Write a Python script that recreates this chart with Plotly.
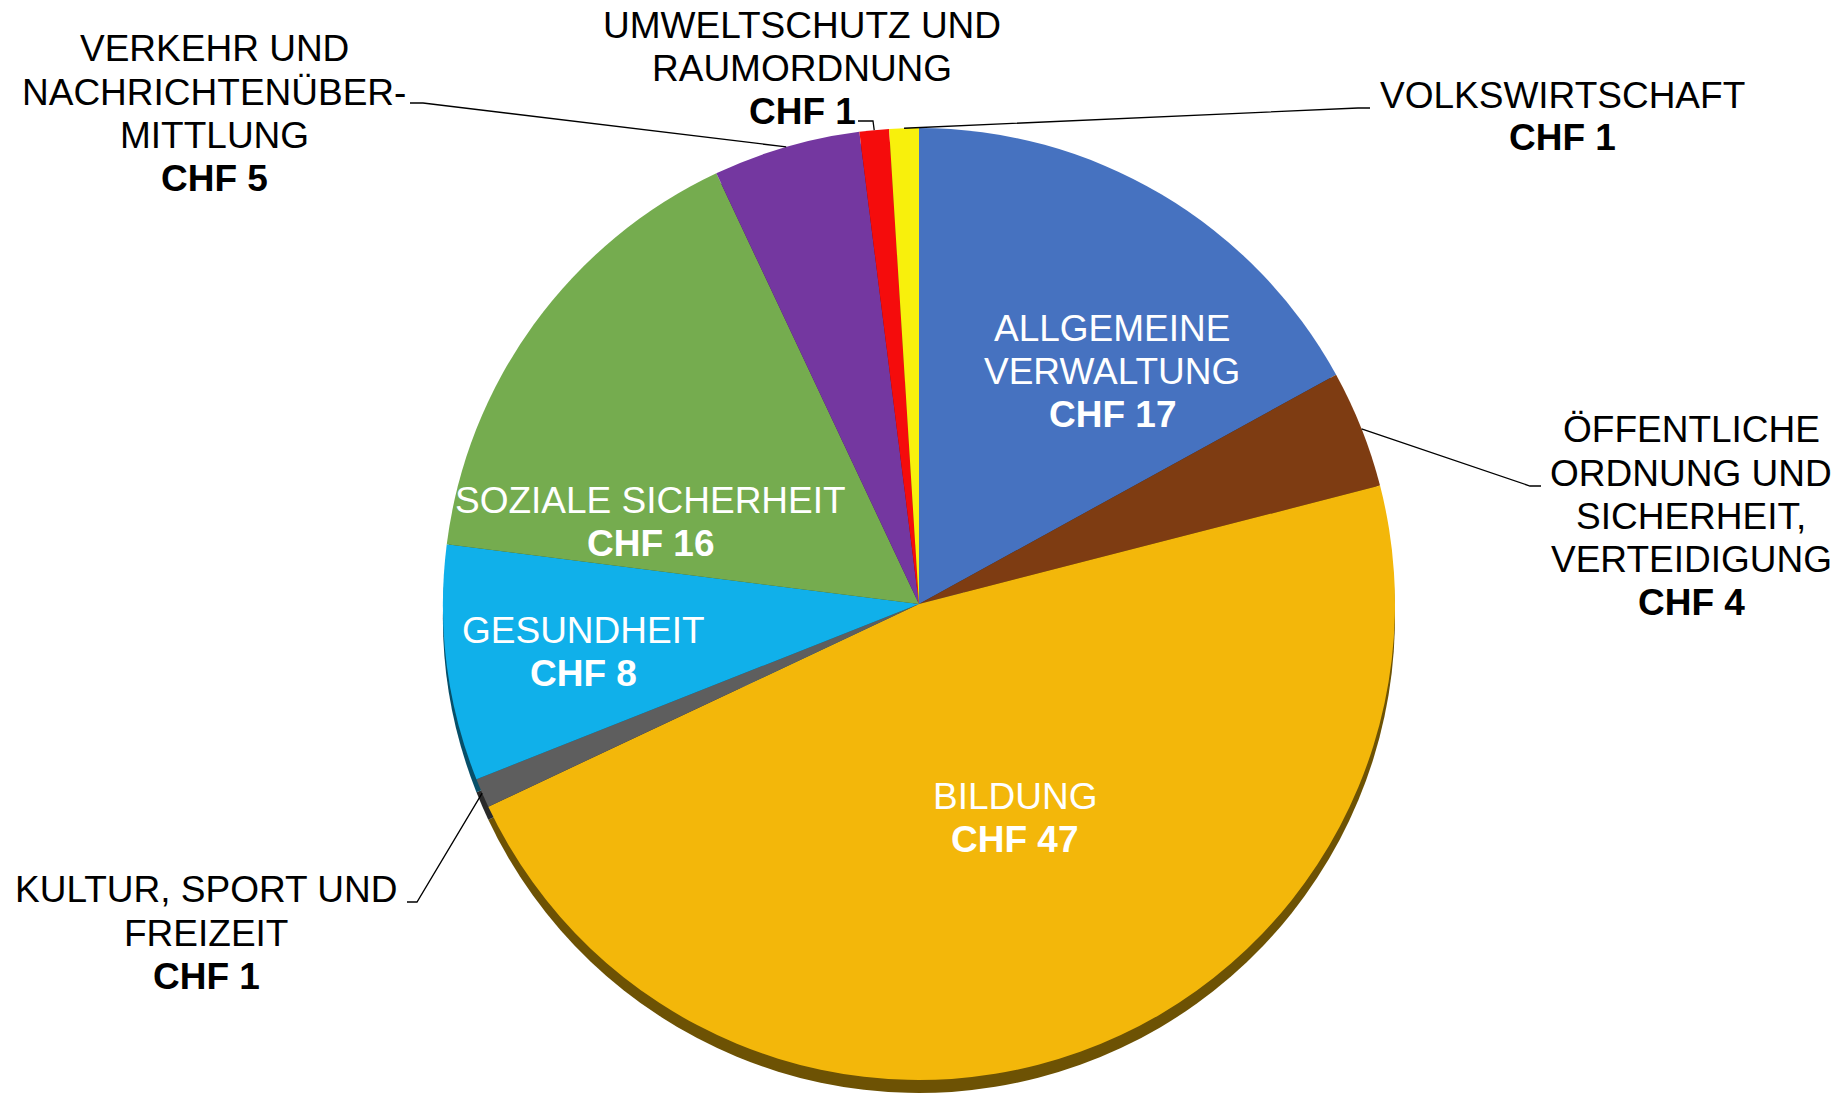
import numpy as np
import plotly.graph_objects as go

# ---- data ----
categories = [
    "ALLGEMEINE VERWALTUNG",
    "ÖFFENTLICHE ORDNUNG UND SICHERHEIT, VERTEIDIGUNG",
    "BILDUNG",
    "KULTUR, SPORT UND FREIZEIT",
    "GESUNDHEIT",
    "SOZIALE SICHERHEIT",
    "VERKEHR UND NACHRICHTENÜBERMITTLUNG",
    "UMWELTSCHUTZ UND RAUMORDNUNG",
    "VOLKSWIRTSCHAFT",
]
values = [17, 4, 47, 1, 8, 16, 5, 1, 1]
colors = ["#4672C0", "#7E3C12", "#F3B70A", "#5E5E5E", "#10B0EA",
          "#75AC4F", "#7437A0", "#F50C0C", "#F8F00C"]

# label text lines (a bold value line is appended)
label_lines = [
    ["ALLGEMEINE", "VERWALTUNG"],
    ["ÖFFENTLICHE", "ORDNUNG UND", "SICHERHEIT,", "VERTEIDIGUNG"],
    ["BILDUNG"],
    ["KULTUR, SPORT UND", "FREIZEIT"],
    ["GESUNDHEIT"],
    ["SOZIALE SICHERHEIT"],
    ["VERKEHR UND", "NACHRICHTENÜBER-", "MITTLUNG"],
    ["UMWELTSCHUTZ UND", "RAUMORDNUNG"],
    ["VOLKSWIRTSCHAFT"],
]

# ---- layout / style (screen px) ----
W, H = 1844, 1100
OFF = 8                          # page body margin
CX, CY, R = 919, 604, 476        # pie centre / radius
SHADOW = 13                      # depth of the 3D edge
LINE_H = 43
FONT = "Liberation Sans, Arial, sans-serif"
FSIZE = 37

# label placement: (centre x, first line centre y, inside?, leader elbow points)
label_pos = [
    (1112, 328, True, None),
    (1691, 430, False, [(1530, 486), (1541, 486)]),
    (1015, 796, True, None),
    (206, 890, False, [(417, 902), (407, 902)]),
    (583, 630, True, None),
    (650, 500, True, None),
    (214, 49, False, [(423, 103), (410, 103)]),
    (802, 26, False, [(873, 121), (858, 121)]),
    (1562, 95, False, [(1358, 108), (1370, 108)]),
]


def darken(hexc, f=0.45):
    h = hexc.lstrip("#")
    r, g, b = (int(h[i:i + 2], 16) for i in (0, 2, 4))
    return "#%02X%02X%02X" % (int(r * f), int(g * f), int(b * f))


def px(x, y):
    return (x - OFF) / W, 1 - (y - OFF) / H


x0, y_top = px(CX - R, CY - R)
x1, y_bot = px(CX + R, CY + R)
dom_x = [x0, x1]
dom_y = [y_bot, y_top]
sh = SHADOW / H
dom_y_sh = [y_bot - sh, y_top - sh]

fig = go.Figure()
fig.add_trace(go.Pie(
    labels=categories, values=values, sort=False, direction="clockwise",
    rotation=0, marker=dict(colors=[darken(c) for c in colors], line=dict(width=0)),
    textinfo="none", hoverinfo="skip", showlegend=False,
    domain=dict(x=dom_x, y=dom_y_sh),
))
fig.add_trace(go.Pie(
    labels=categories, values=values, sort=False, direction="clockwise",
    rotation=0, marker=dict(colors=colors, line=dict(width=0)),
    textinfo="none", showlegend=False,
    domain=dict(x=dom_x, y=dom_y),
))

# slice mid angles (clockwise from 12 o'clock)
vals = np.array(values, dtype=float)
cum = np.cumsum(vals)
mids = (cum - vals / 2) / vals.sum() * 2 * np.pi

annotations = []
shapes = []
for i, cat in enumerate(categories):
    lx, ly, inside, elbow = label_pos[i]
    col = "white" if inside else "black"
    lines = label_lines[i] + ["<b>CHF %d</b>" % values[i]]
    for j, t in enumerate(lines):
        x, y = px(lx, ly + j * LINE_H)
        annotations.append(dict(
            x=x, y=y, xref="paper", yref="paper", text=t, showarrow=False,
            xanchor="center", yanchor="middle",
            font=dict(family=FONT, size=FSIZE, color=col),
        ))
    if elbow:
        ax = CX + R * np.sin(mids[i])
        ay = CY - R * np.cos(mids[i])
        pts = [(ax, ay)] + elbow
        path = "M " + " L ".join("%f,%f" % px(a, b) for a, b in pts)
        shapes.append(dict(type="path", xref="paper", yref="paper", path=path,
                           line=dict(color="black", width=1.3)))

fig.update_layout(
    width=W, height=H,
    margin=dict(l=0, r=0, t=0, b=0),
    paper_bgcolor="white", plot_bgcolor="white",
    annotations=annotations, shapes=shapes,
)
fig.write_html("out.html")
